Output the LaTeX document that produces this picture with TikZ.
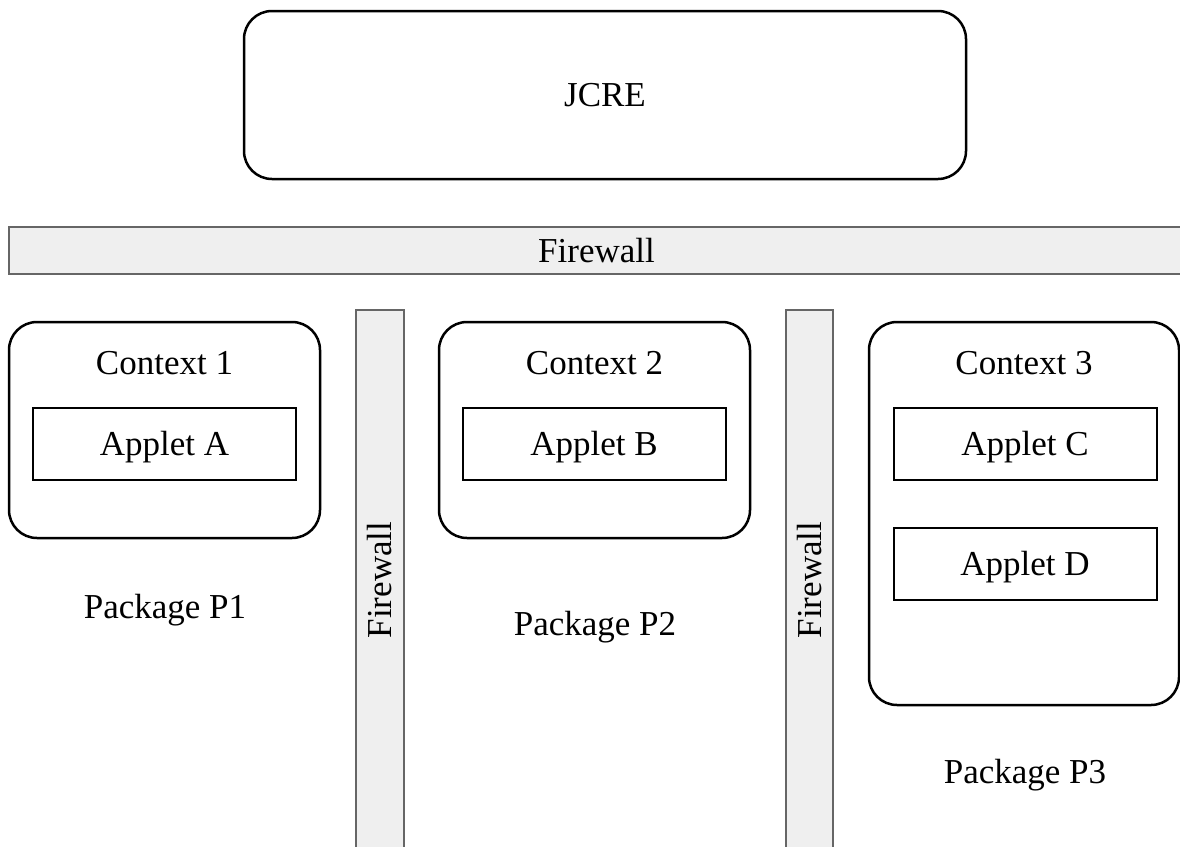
\documentclass[tikz,border=0pt]{standalone}
\usepackage{fontspec}
\setmainfont{Liberation Serif}
\usetikzlibrary{positioning}
\definecolor{wallfill}{HTML}{EFEFEF}
\definecolor{wallline}{HTML}{666666}

\begin{document}
\begin{tikzpicture}[x=1pt,y=-1pt,
	lbl/.style={font=\fontsize{35}{40}\selectfont,inner sep=0pt,text height=23pt,text depth=0pt},
	rbox/.style={draw=black,line width=2.5pt,rounded corners=28pt},
	applet/.style={draw=black,line width=2pt,minimum width=263pt,minimum height=72pt,lbl},
	wall/.style={draw=wallline,fill=wallfill,line width=2pt,lbl}]
	\useasboundingbox (0,0) rectangle (1180,846);
	\clip (0,0) rectangle (1180,846);
	\node[rbox,minimum width=722pt,minimum height=168pt,lbl] (jcre) at (605,95) {JCRE};
	\node[wall,minimum width=1175pt,minimum height=47pt] (fwtop) at (596.5,250.5) {Firewall};
	\node[wall,minimum width=48pt,minimum height=540pt] (fw1) at (380,580) {};
	\node[lbl,rotate=90] (fw1text) at (fw1.center) {Firewall};
	\node[wall,minimum width=47pt,minimum height=540pt] (fw2) at (809.5,580) {};
	\node[lbl,rotate=90] (fw2text) at (fw2.center) {Firewall};
	% contexts
	\node[rbox,minimum width=311pt,minimum height=216pt] (ctx1) at (164.5,430) {};
	\node[rbox,minimum width=311pt,minimum height=216pt] (ctx2) at (594.5,430) {};
	\node[rbox,minimum width=310pt,minimum height=383pt] (ctx3) at (1024,513.5) {};
	\node[lbl] (ctx1text) at (164.5,363) {Context 1};
	\node[lbl] (ctx2text) at (594.5,363) {Context 2};
	\node[lbl] (ctx3text) at (1024,363) {Context 3};
	% applets
	\node[applet] (appA) at (164.5,444) {Applet A};
	\node[applet] (appB) at (594,444) {Applet B};
	\node[applet] (appC) at (1025,444) {Applet C};
	\node[applet] (appD) at (1025,564) {Applet D};
	% packages
	\node[lbl] (pkg1) at (165,607) {Package P1};
	\node[lbl] (pkg2) at (595,624) {Package P2};
	\node[lbl] (pkg3) at (1025,772) {Package P3};
\end{tikzpicture}
\end{document}
